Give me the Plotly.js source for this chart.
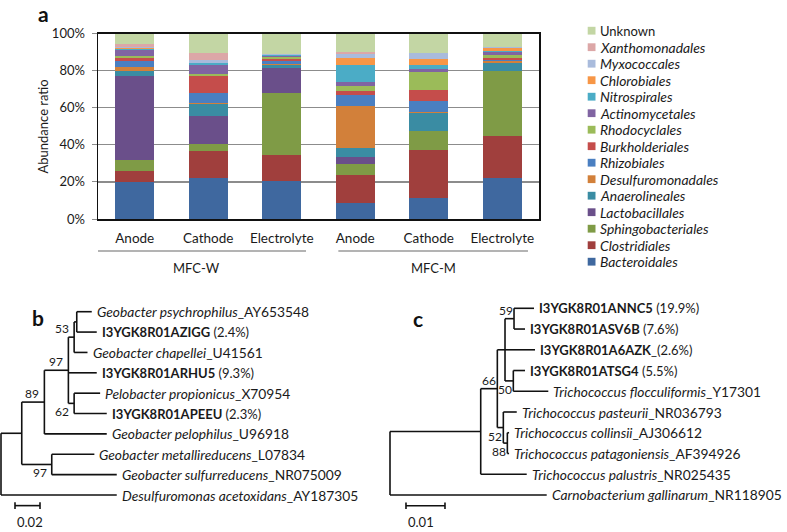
<!DOCTYPE html>
<html>
<head>
<meta charset="utf-8">
<script src="https://cdn.plot.ly/plotly-3.0.1.min.js"></script>
<style>
  html, body { margin: 0; padding: 0; background: #fff; }
  #chart { width: 787px; height: 532px; }
</style>
</head>
<body>
<div id="chart"></div>
<script>
const W = 787;
const H = 532;
const FONT = "Lato, 'Open Sans', sans-serif";

// ---- panel a: order-level composition (% of reads), bottom of stack first ----
const samples = ["Anode", "Cathode", "Electrolyte", "Anode", "Cathode", "Electrolyte"];
const systems = ["MFC-W", "MFC-W", "MFC-W", "MFC-M", "MFC-M", "MFC-M"];

const orders = [
  "Bacteroidales", "Clostridiales", "Sphingobacteriales", "Lactobacillales",
  "Anaerolineales", "Desulfuromonadales", "Rhizobiales", "Burkholderiales",
  "Rhodocyclales", "Actinomycetales", "Nitrospirales", "Chlorobiales",
  "Myxococcales", "Xanthomonadales", "Unknown",
];
const orderColors = [
  "#3f689f", "#a03f3d", "#7f9b46", "#6a4f8a", "#3a8ca3", "#d2803a", "#4a7fc1",
  "#c54d4b", "#9bbb59", "#8064a2", "#4bacc6", "#f79646", "#a9bbdc", "#dca7a7", "#c3d6a4",
];

const bacteroidales = [20.0, 22.1, 20.3, 8.6, 11.3, 22.1];
const clostridiales = [5.7, 14.4, 14.2, 14.9, 25.7, 22.5];
const sphingobacteriales = [6.3, 4.1, 33.4, 6.3, 10.3, 35.0];
const lactobacillales = [45.3, 15.1, 13.5, 3.6, 0, 0];
const anaerolineales = [2.3, 6.3, 1.8, 4.9, 9.8, 4.5];
const desulfuromonadales = [2.2, 0.3, 0.5, 22.8, 0.4, 0.9];
const rhizobiales = [3.2, 5.4, 1.3, 5.6, 5.9, 0.9];
const burkholderiales = [1.8, 9.6, 1.3, 2.1, 6.0, 0.7];
const rhodocyclales = [0.9, 0.7, 0.9, 2.9, 9.8, 2.0];
const actinomycetales = [3.6, 5.2, 0.7, 2.2, 1.8, 1.2];
const nitrospirales = [0.5, 0.7, 0.3, 9.3, 1.8, 0.6];
const chlorobiales = [0.2, 0.3, 0.2, 3.6, 3.5, 1.8];
const myxococcales = [0.7, 1.5, 0.6, 2.2, 3.0, 0.5];
const xanthomonadales = [1.5, 3.8, 0.2, 1.0, 0.4, 0.2];
const unknown = [5.8, 10.5, 10.8, 10.0, 10.3, 7.1];

const abundance = [
  bacteroidales, clostridiales, sphingobacteriales, lactobacillales, anaerolineales,
  desulfuromonadales, rhizobiales, burkholderiales, rhodocyclales, actinomycetales,
  nitrospirales, chlorobiales, myxococcales, xanthomonadales, unknown,
];

// ---- panels b and c: neighbour-joining trees (branch lengths, bootstrap %) ----
const leaf = (label, length) => ({ label, length });
const clade = (children, length, support) => ({ children, length, support });

const treeB = clade([
  clade([
    clade([
      clade([
        clade([
          clade([
            leaf("<i>Geobacter psychrophilus</i>_AY653548", 0.012),
            leaf("<b>I3YGK8R01AZIGG</b> (2.4%)", 0.016),
          ], 0.0021),
          leaf("<i>Geobacter chapellei</i>_U41561", 0.0107),
        ], 0.0046, 53),
        leaf("<b>I3YGK8R01ARHU5</b> (9.3%)", 0.0227),
        clade([
          leaf("<i>Pelobacter propionicus</i>_X70954", 0.0208),
          leaf("<b>I3YGK8R01APEEU</b> (2.3%)", 0.0261),
        ], 0.0046, 62),
      ], 0.0192, 97),
      leaf("<i>Geobacter pelophilus</i>_U96918", 0.0499),
    ], 0.0181, 89),
    clade([
      leaf("<i>Geobacter metallireducens</i>_L07834", 0.0341),
      leaf("<i>Geobacter sulfurreducens</i>_NR075009", 0.052),
    ], 0.024, 97),
  ], 0.0166),
  leaf("<i>Desulfuromonas acetoxidans</i>_AY187305", 0.0926),
], 0);
const scaleB = 0.02;

const treeC = clade([
  clade([
    clade([
      clade([
        clade([
          leaf("<b>I3YGK8R01ANNC5</b> (19.9%)", 0.00513),
          leaf("<b>I3YGK8R01ASV6B</b> (7.6%)", 0.00282),
        ], 0.00231, 59),
        leaf("<b>I3YGK8R01A6AZK</b>_(2.6%)", 0.00769),
        clade([
          leaf("<b>I3YGK8R01ATSG4</b> (5.5%)", 0.003),
          leaf("<i>Trichococcus flocculiformis</i>_Y17301", 0.00897),
        ], 0.00213, 50),
      ], 0.00197),
      clade([
        leaf("<i>Trichococcus pasteurii</i>_NR036793", 0.00344),
        clade([
          leaf("<i>Trichococcus collinsii</i>_AJ306612", 0.00044),
          leaf("<i>Trichococcus patagoniensis</i>_AF394926", 0.00044),
        ], 0.00103, 88),
      ], 0.00154, 52),
    ], 0.00426, 66),
    leaf("<i>Trichococcus palustris</i>_NR025435", 0.0118),
  ], 0.02326),
  leaf("<i>Carnobacterium gallinarum</i>_NR118905", 0.04018),
], 0);
const scaleC = 0.01;

// rectangular tree layout: leaves get consecutive rows, x is cumulative branch length
function layoutTree(root) {
  const lines = { x: [], y: [] };
  const leaves = [];
  const supports = [];
  let nextRow = 0;
  function place(node, parentX) {
    const x = parentX + node.length;
    if (!node.children) {
      const y = nextRow++;
      leaves.push({ x, y, label: node.label });
      return { x, y };
    }
    const kids = node.children.map((child) => place(child, x));
    const first = kids[0].y;
    const last = kids[kids.length - 1].y;
    lines.x.push(x, x, null);
    lines.y.push(first, last, null);
    kids.forEach((kid, index) => {
      lines.x.push(x, kid.x, null);
      lines.y.push(kid.y, kid.y, null);
      const child = node.children[index];
      if (child.support !== undefined) {
        supports.push({ x: kid.x, y: kid.y, text: String(child.support), below: index === kids.length - 1 });
      }
    });
    return { x, y: (first + last) / 2 };
  }
  place(root, 0);
  return { lines, leaves, supports, rows: nextRow };
}

function px(v) { return v / W; }
function py(v) { return 1 - v / H; }

const traces = [];
const annotations = [];
const shapes = [];

// stacked bars
orders.forEach((name, i) => {
  traces.push({
    type: "bar",
    x: samples.map((_, j) => j),
    y: abundance[i],
    name,
    marker: { color: orderColors[i], line: { width: 0 } },
    width: 0.53,
    showlegend: false,
    hoverinfo: "skip",
    xaxis: "x",
    yaxis: "y",
  });
});

// legend (top row = last order)
const legendRows = orders.map((name, i) => ({ name, color: orderColors[i] })).reverse();
legendRows.forEach((row, k) => {
  const cy = 30.7 + 16.5 * k;
  const plain = row.name === "Unknown";
  shapes.push({
    type: "rect", xref: "paper", yref: "paper",
    x0: px(587.7), x1: px(595.5), y0: py(cy + 3.9), y1: py(cy - 3.9),
    fillcolor: row.color, line: { width: 0 },
  });
  annotations.push({
    xref: "paper", yref: "paper", x: px(598), y: py(cy),
    xanchor: "left", yanchor: "middle", showarrow: false,
    text: plain ? row.name : `<i>${row.name}</i>`,
    font: { family: FONT, size: plain ? 13 : 13.9, color: "#1a1a1a" },
  });
});

// system group lines and labels under the sample names
const groupNames = [...new Set(systems)];
const groupPads = [[0.64, 0.33], [0.23, 0.35]];
groupNames.forEach((group, g) => {
  const first = systems.indexOf(group);
  const last = systems.lastIndexOf(group);
  const x0 = first - groupPads[g][0];
  const x1 = last + groupPads[g][1];
  shapes.push({
    type: "line", xref: "x", yref: "paper", x0, x1, y0: py(251), y1: py(251),
    line: { color: "#9a9a9a", width: 1.5 },
  });
  annotations.push({
    xref: "x", yref: "paper", x: (x0 + x1) / 2, y: py(268),
    xanchor: "center", yanchor: "middle", showarrow: false, text: group,
    font: { family: FONT, size: 13, color: "#1a1a1a" },
  });
});

annotations.push({
  xref: "paper", yref: "paper", x: px(43), y: py(126.5), textangle: -90,
  xanchor: "center", yanchor: "middle", showarrow: false, text: "Abundance ratio",
  font: { family: FONT, size: 13, color: "#1a1a1a" },
});

// trees
function drawTree(tree, scale, axisSuffix, scaleStart, supportShift) {
  const laid = layoutTree(tree);
  const xa = "x" + axisSuffix;
  const ya = "y" + axisSuffix;
  const barY = laid.rows - 1 + 0.52;
  const lx = [...laid.lines.x, scaleStart, scaleStart + scale, null,
    scaleStart, scaleStart, null, scaleStart + scale, scaleStart + scale, null];
  const ly = [...laid.lines.y, barY, barY, null,
    barY - 0.16, barY + 0.16, null, barY - 0.16, barY + 0.16, null];
  traces.push({
    type: "scatter", mode: "lines", x: lx, y: ly, xaxis: xa, yaxis: ya,
    line: { color: "#111", width: 1.6 }, hoverinfo: "skip", showlegend: false,
    cliponaxis: false,
  });
  laid.leaves.forEach((l) => {
    const isSpecies = l.label.startsWith("<i>");
    annotations.push({
      xref: xa, yref: ya, x: l.x, y: l.y, xanchor: "left", yanchor: "middle",
      xshift: 3, showarrow: false, text: l.label,
      font: { family: FONT, size: isSpecies ? 13.8 : 13, color: "#1a1a1a" },
    });
  });
  laid.supports.forEach((s) => {
    annotations.push({
      xref: xa, yref: ya, x: s.x, y: s.y, xanchor: "right",
      yanchor: s.below ? "top" : "bottom", xshift: supportShift, yshift: s.below ? 1 : -1,
      showarrow: false, text: s.text,
      font: { family: FONT, size: 12, color: "#1a1a1a" },
    });
  });
  annotations.push({
    xref: xa, yref: ya, x: scaleStart, y: barY, xanchor: "left", yanchor: "top",
    yshift: -6, showarrow: false, text: String(scale),
    font: { family: FONT, size: 13, color: "#1a1a1a" },
  });
}

function treeAxes(rootPx, pxPerUnit, topRowPx, rowStep) {
  return [
    { domain: [0, 1], range: [-rootPx / pxPerUnit, (W - rootPx) / pxPerUnit], visible: false, fixedrange: true },
    { domain: [0, 1], range: [(H - topRowPx) / rowStep, -topRowPx / rowStep], visible: false, fixedrange: true },
  ];
}

drawTree(treeB, scaleB, "2", 0.0112, -3);
drawTree(treeC, scaleC, "3", 0.0041, 0.5);
const [xB, yB] = treeAxes(1, 1250, 311.7, 20.37);
const [xC, yC] = treeAxes(390, 3900, 308.3, 20.74);

// panel letters
[["a", 43, 14], ["b", 38, 317], ["c", 418, 318]].forEach(([letter, x, y]) => {
  annotations.push({
    xref: "paper", yref: "paper", x: px(x), y: py(y), xanchor: "center", yanchor: "middle",
    showarrow: false, text: `<b>${letter}</b>`,
    font: { family: FONT, size: 21, color: "#111" },
  });
});

const layout = {
  width: W,
  height: H,
  margin: { l: 0, r: 0, t: 0, b: 0 },
  paper_bgcolor: "#fff",
  plot_bgcolor: "rgba(0,0,0,0)",
  barmode: "stack",
  showlegend: false,
  font: { family: FONT, size: 13, color: "#1a1a1a" },
  xaxis: {
    domain: [px(98), px(539)],
    range: [-0.5, 5.5],
    tickvals: samples.map((_, j) => j),
    ticktext: samples,
    ticks: "",
    ticklabelstandoff: 6,
    showline: true, mirror: true, linecolor: "#111", linewidth: 1.5,
    showgrid: false, zeroline: false, fixedrange: true,
    tickfont: { family: FONT, size: 13.5, color: "#1a1a1a" },
    anchor: "y",
  },
  yaxis: {
    domain: [py(219), py(33.5)],
    range: [0, 100],
    dtick: 20,
    ticksuffix: "%",
    ticks: "outside", ticklen: 5, tickcolor: "#8c8c8c",
    ticklabelstandoff: 4,
    showgrid: true, gridcolor: "#8c8c8c", gridwidth: 1.3,
    showline: true, mirror: true, linecolor: "#111", linewidth: 1.5,
    zeroline: false, fixedrange: true,
    tickfont: { family: FONT, size: 13, color: "#1a1a1a" },
    anchor: "x",
  },
  xaxis2: { ...xB, anchor: "y2" },
  yaxis2: { ...yB, anchor: "x2" },
  xaxis3: { ...xC, anchor: "y3" },
  yaxis3: { ...yC, anchor: "x3" },
  shapes,
  annotations,
};

Plotly.newPlot("chart", traces, layout, { staticPlot: true, displayModeBar: false });
</script>
</body>
</html>
